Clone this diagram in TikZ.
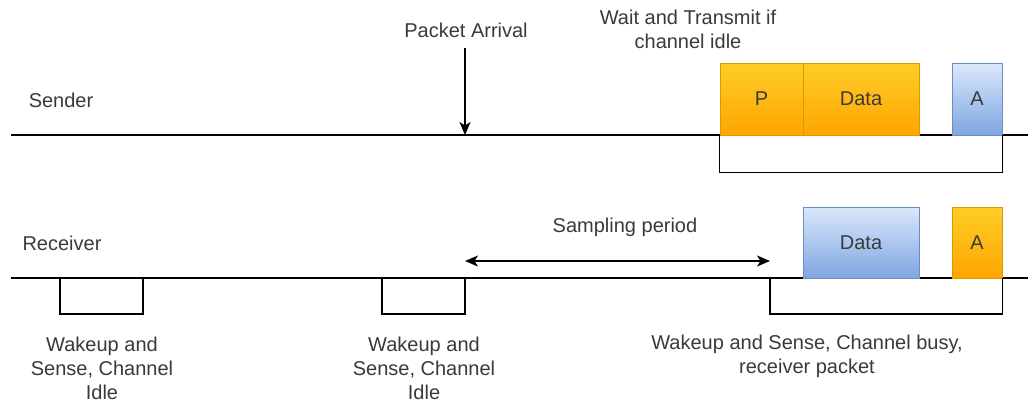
\documentclass[tikz,border=0pt]{standalone}
\usepackage{fontspec}
\setmainfont{Liberation Sans}
\usetikzlibrary{arrows.meta}
\definecolor{txt}{HTML}{3A3A3A}
\definecolor{orTop}{HTML}{FFCD28}
\definecolor{orBot}{HTML}{FFA500}
\definecolor{orLine}{HTML}{D79B00}
\definecolor{blTop}{HTML}{DAE8FC}
\definecolor{blBot}{HTML}{7EA6E0}
\definecolor{blLine}{HTML}{6C8EBF}
\tikzset{
  lbl/.style={text=txt, font=\fontsize{20}{24}\selectfont, align=center, inner sep=0pt},
  orbox/.style={draw=orLine, line width=0.8pt, top color=orTop, bottom color=orBot, text=txt,
    font=\fontsize{20}{24}\selectfont, inner sep=0pt, minimum height=72pt},
  blbox/.style={draw=blLine, line width=0.8pt, top color=blTop, bottom color=blBot, text=txt,
    font=\fontsize{20}{24}\selectfont, inner sep=0pt, minimum height=71pt},
  tl/.style={line width=1.3pt, black},
  arr/.style={line width=1.3pt, black, -{Stealth[length=13pt, width=11pt, inset=3.5pt]}},
  arrs/.style={line width=1.3pt, black, {Stealth[length=13pt, width=11pt, inset=3.5pt]}-{Stealth[length=13pt, width=11pt, inset=3.5pt]}}
}
\begin{document}
\begin{tikzpicture}[x=1pt, y=-1pt]
\useasboundingbox[fill=white] (0,0) rectangle (1028,408);
% time lines
\coordinate (sL) at (11,135);
\coordinate (sR) at (1028,135);
\coordinate (rL) at (11,278);
\coordinate (rR) at (1028,278);
\draw[tl] (sL) -- (sR);
\draw[tl] (rL) -- (rR);
% labels
\node[lbl] (sender) at (61,100) {Sender};
\node[lbl] (receiver) at (62,243) {Receiver};
\node[lbl] (arrival) at (466,30) {Packet Arrival};
\node[lbl] (wait) at (688,29) {Wait and Transmit if\\channel idle};
\node[lbl] (sampling) at (625,227) {Sampling period};
% packet arrival arrow
\coordinate (arrTop) at (465,48);
\coordinate (arrBot) at (465,135);
\draw[arr] (arrTop) -- (arrBot);
% sender boxes
\node[orbox, minimum width=83pt] (P) at (761.5,99) {P};
\node[orbox, minimum width=116pt] (sdata) at (861,99) {Data};
\node[blbox, minimum width=50pt, minimum height=72pt] (sA) at (977,99) {A};
% sender bracket
\draw[tl] (P.south west) -- ++(0,37) coordinate (sb1) -| (sA.south east);
% receiver boxes
\node[blbox, minimum width=116pt] (rdata) at (861,242.5) {Data};
\node[orbox, minimum width=50pt, minimum height=71pt] (rA) at (977,242.5) {A};
% receiver small boxes
\coordinate (w1a) at (60,278);
\coordinate (w1b) at (143,278);
\coordinate (w2a) at (382,278);
\coordinate (w2b) at (465,278);
\coordinate (w3a) at (770,278);
\draw[tl] (w1a) -- ++(0,36) -| (w1b);
\draw[tl] (w2a) -- ++(0,36) -| (w2b);
\draw[tl] (w3a) -- ++(0,36) -| (rA.south east);
% sampling period arrow
\coordinate (spL) at (465,261);
\coordinate (spR) at (770,261);
\draw[arrs] (spL) -- (spR);
% wakeup labels
\node[lbl] (wk1) at (102,368) {Wakeup and\\Sense, Channel\\Idle};
\node[lbl] (wk2) at (424,368) {Wakeup and\\Sense, Channel\\Idle};
\node[lbl] (wk3) at (807,356) {Wakeup and Sense, Channel busy,\\receiver packet};
\end{tikzpicture}
\end{document}
